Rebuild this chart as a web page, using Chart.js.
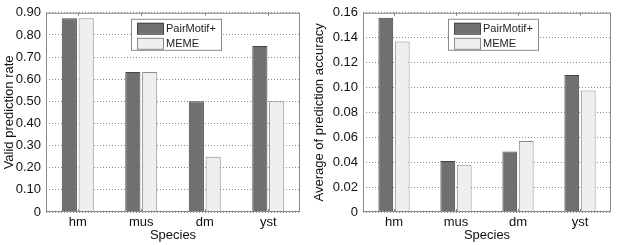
<!DOCTYPE html>
<html>
<head>
<meta charset="utf-8">
<script src="https://cdn.jsdelivr.net/npm/chart.js@4"></script>
<style>
  html, body { margin: 0; padding: 0; background: #fff; }
  #wrap { display: flex; width: 621px; height: 245px; }
  .box { position: relative; height: 245px; }
</style>
</head>
<body>
<div id="wrap">
  <div class="box" style="width:310px"><canvas id="rateChart"></canvas></div>
  <div class="box" style="width:311px"><canvas id="accChart"></canvas></div>
</div>
<script>
const species = ['hm', 'mus', 'dm', 'yst'];
const seriesNames = ['PairMotif+', 'MEME'];
const ratePairMotif = [0.875, 0.633, 0.50, 0.75];
const rateMeme = [0.875, 0.633, 0.25, 0.50];
const accPairMotif = [0.156, 0.041, 0.0485, 0.110];
const accMeme = [0.137, 0.038, 0.057, 0.0975];
const rateTicks = [0, 0.10, 0.20, 0.30, 0.40, 0.50, 0.60, 0.70, 0.80, 0.90];
const accTicks = [0, 0.02, 0.04, 0.06, 0.08, 0.10, 0.12, 0.14, 0.16];

const FONT = 'Liberation Sans, Arial, sans-serif';
const darkFill = '#707070', darkLine = '#444444';
const lightFill = '#efefef', lightLine = '#8c8c8c';

// frame round the plot area + legend box inside it
const framePlugin = {
  id: 'frame',
  afterDatasetsDraw(chart) {
    const { ctx, chartArea: a } = chart;
    ctx.save();
    ctx.strokeStyle = '#8a8a8a';
    ctx.lineWidth = 1;
    ctx.strokeRect(a.left + 0.5, a.top + 0.5, a.right - a.left - 1, a.bottom - a.top - 1);

    // small inward tick marks on the x axis
    const xs = chart.scales.x;
    species.forEach((_, i) => {
      const px = Math.round(xs.getPixelForTick(i)) + 0.5;
      ctx.beginPath();
      ctx.moveTo(px, a.bottom); ctx.lineTo(px, a.bottom - 3);
      ctx.moveTo(px, a.top); ctx.lineTo(px, a.top + 3);
      ctx.stroke();
    });

    // legend
    const x = a.left + 85, y = a.top + 6, w = 90, h = 31;
    ctx.fillStyle = '#fff';
    ctx.fillRect(x, y, w, h);
    ctx.strokeStyle = '#8a8a8a';
    ctx.strokeRect(x + 0.5, y + 0.5, w, h);
    ctx.font = '11px ' + FONT;
    ctx.textBaseline = 'middle';
    chart.data.datasets.forEach((ds, i) => {
      const cy = y + 9.5 + i * 15;
      ctx.fillStyle = ds.backgroundColor;
      ctx.fillRect(x + 6, cy - 5.5, 26, 11);
      ctx.strokeStyle = ds.borderColor;
      ctx.strokeRect(x + 6.5, cy - 5, 26, 11);
      ctx.fillStyle = '#222';
      ctx.fillText(ds.label, x + 35, cy + 0.5);
    });
    ctx.restore();
  }
};

function makeChart(id, a, b, ticks, yTitle, leftWidth) {
  new Chart(document.getElementById(id), {
    type: 'bar',
    data: {
      labels: species,
      datasets: [
        { label: seriesNames[0], data: a, backgroundColor: darkFill, borderColor: darkLine, borderWidth: 1 },
        { label: seriesNames[1], data: b, backgroundColor: lightFill, borderColor: lightLine, borderWidth: 1 }
      ]
    },
    options: {
      animation: false,
      responsive: true,
      maintainAspectRatio: false,
      categoryPercentage: 0.53,
      barPercentage: 0.9,
      layout: { padding: { left: 0, right: 10, top: 7, bottom: 0 } },
      plugins: { legend: { display: false }, tooltip: { enabled: false } },
      scales: {
        x: {
          grid: { display: false, drawTicks: false, tickLength: 0 },
          border: { display: false },
          ticks: { color: '#111', font: { family: FONT, size: 13 }, padding: 3 },
          title: { display: true, text: 'Species', color: '#111', font: { family: FONT, size: 13 }, padding: { top: 0, bottom: 2 } },
          afterFit: s => { s.height = 33; }
        },
        y: {
          min: 0,
          max: ticks[ticks.length - 1],
          afterBuildTicks: s => { s.ticks = ticks.map(v => ({ value: v })); },
          grid: { color: '#8a8a8a', lineWidth: 1, drawTicks: false },
          border: { display: false, dash: [1, 2] },
          ticks: {
            color: '#111',
            font: { family: FONT, size: 13 },
            padding: 5,
            callback: v => v === 0 ? '0' : v.toFixed(2)
          },
          title: { display: true, text: yTitle, color: '#111', font: { family: FONT, size: 13 }, padding: { top: 2, bottom: 2 } },
          afterFit: s => { s.width = leftWidth; }
        }
      }
    },
    plugins: [framePlugin]
  });
}

makeChart('rateChart', ratePairMotif, rateMeme, rateTicks, 'Valid prediction rate', 46);
makeChart('accChart', accPairMotif, accMeme, accTicks, 'Average of prediction accuracy', 53);
</script>
</body>
</html>
